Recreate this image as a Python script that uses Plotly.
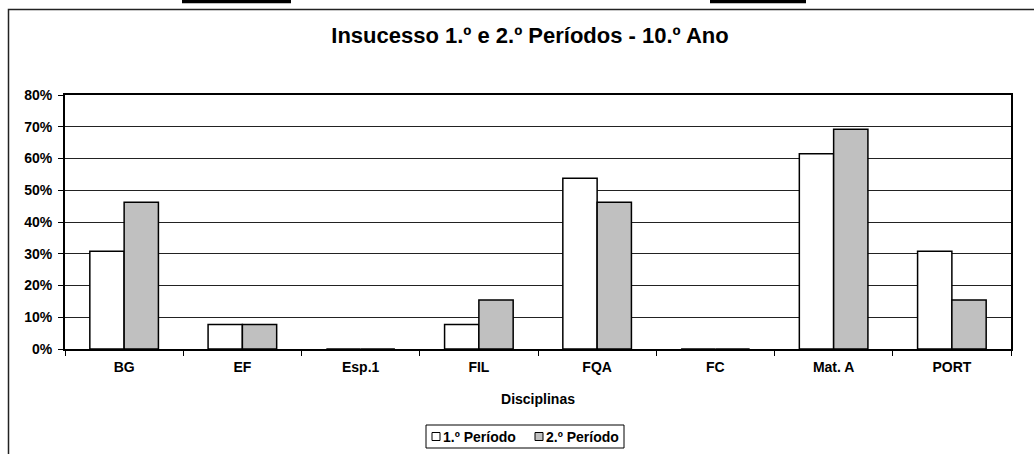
import plotly.graph_objects as go

# Failure rates (%) per subject, 10th grade, first and second terms
disciplinas = ["BG", "EF", "Esp.1", "FIL", "FQA", "FC", "Mat. A", "PORT"]
series_names = ["1.º Período", "2.º Período"]
periodo_1 = [30.8, 7.7, 0, 7.7, 53.8, 0, 61.5, 30.8]
periodo_2 = [46.2, 7.7, 0, 15.4, 46.2, 0, 69.2, 15.4]
y_ticks = [0, 10, 20, 30, 40, 50, 60, 70, 80]
y_tick_labels = ["0%", "10%", "20%", "30%", "40%", "50%", "60%", "70%", "80%"]

FONT = "Liberation Sans, Arial, sans-serif"
FS = 14
W, H = 1034, 454
L, R, T, B = 65, 23, 95, 105
PW, PH = W - L - R, H - T - B
fills = ["white", "#C0C0C0"]


def px_x(x):
    return (x - L) / PW


def px_y(y):
    return (H - B - y) / PH


fig = go.Figure()
for name, vals, fill in zip(series_names, [periodo_1, periodo_2], fills):
    fig.add_trace(go.Bar(
        x=disciplinas, y=vals, name=name,
        marker=dict(color=fill, line=dict(color="black", width=1.5)),
    ))

shapes = [
    # outer chart frame
    dict(type="rect", xref="paper", yref="paper",
         x0=px_x(8.5), x1=px_x(1045), y0=px_y(9.5), y1=px_y(470),
         line=dict(color="#222", width=1.5), fillcolor="rgba(0,0,0,0)", layer="below"),
    # dark strips along the top edge
    dict(type="rect", xref="paper", yref="paper",
         x0=px_x(182), x1=px_x(291), y0=px_y(0), y1=px_y(3.3),
         line=dict(width=0), fillcolor="black"),
    dict(type="rect", xref="paper", yref="paper",
         x0=px_x(710), x1=px_x(806), y0=px_y(0), y1=px_y(3.3),
         line=dict(width=0), fillcolor="black"),
    # legend box
    dict(type="rect", xref="paper", yref="paper",
         x0=px_x(426), x1=px_x(624), y0=px_y(425), y1=px_y(448),
         line=dict(color="black", width=1), fillcolor="white"),
]
annotations = []
# legend entries: swatch + label
for (sx, tx), name, fill in zip([(432, 441), (535, 544)], series_names, fills):
    shapes.append(dict(type="rect", xref="paper", yref="paper",
                       x0=px_x(sx), x1=px_x(sx + 8), y0=px_y(432.5), y1=px_y(440.5),
                       line=dict(color="black", width=1), fillcolor=fill))
    annotations.append(dict(
        text=f"<b>{name}</b>", xref="paper", yref="paper",
        x=px_x(tx), y=px_y(436.5), xanchor="left", yanchor="middle",
        showarrow=False, font=dict(family=FONT, size=FS, color="black"),
    ))

fig.update_layout(
    width=W, height=H,
    margin=dict(l=L, r=R, t=T, b=B, autoexpand=False),
    paper_bgcolor="white", plot_bgcolor="white",
    font=dict(family=FONT, size=FS, color="black"),
    title=dict(
        text="<b>Insucesso 1.º e 2.º Períodos - 10.º Ano</b>",
        font=dict(family=FONT, size=22, color="black"),
        xref="container", yref="container",
        x=530 / W, y=1 - 35 / H, xanchor="center", yanchor="middle",
    ),
    barmode="group", bargap=0.42, bargroupgap=0,
    showlegend=False,
    shapes=shapes,
    annotations=annotations,
)

fig.update_xaxes(
    type="category",
    showline=True, linecolor="black", linewidth=2, mirror=True,
    ticks="outside", tickson="boundaries", ticklen=5, tickcolor="black",
    ticklabelstandoff=4,
    tickfont=dict(family=FONT, size=FS, weight="bold"),
    title=dict(text="Disciplinas", font=dict(family=FONT, size=FS, weight="bold"), standoff=20),
    showgrid=False,
)
fig.update_yaxes(
    range=[0, 80], tickvals=y_ticks, ticktext=y_tick_labels,
    showline=True, linecolor="black", linewidth=2, mirror=True,
    ticks="outside", ticklen=5, tickcolor="black",
    ticklabelstandoff=3,
    tickfont=dict(family=FONT, size=FS, weight="bold"),
    showgrid=True, gridcolor="#222", gridwidth=1,
    zeroline=False,
)

fig.write_html("out.html")
